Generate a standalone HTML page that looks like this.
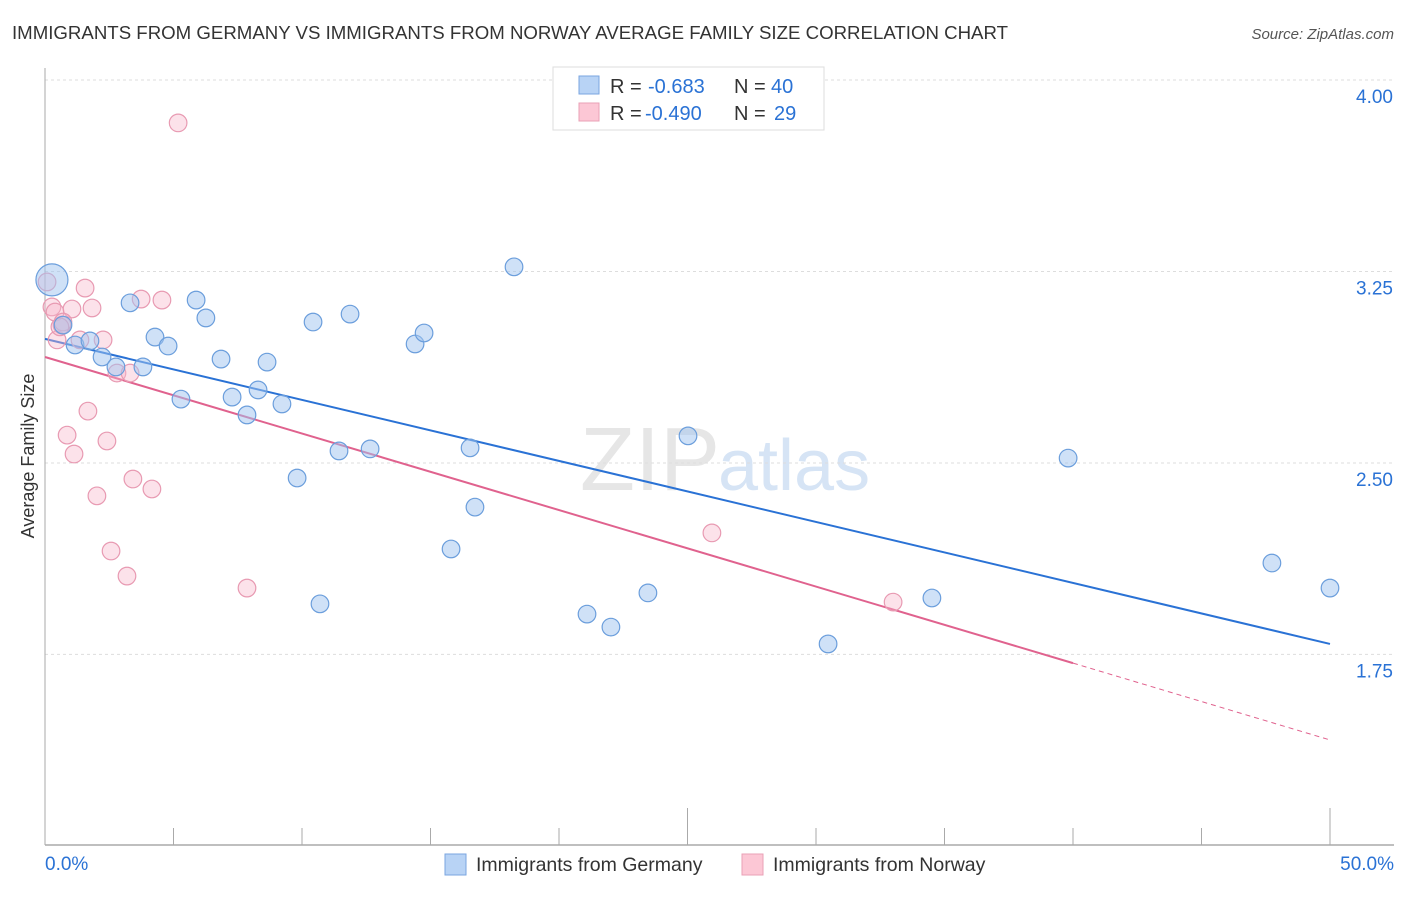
<!DOCTYPE html>
<html><head><meta charset="utf-8"><style>
body{margin:0;background:#fff;font-family:"Liberation Sans",sans-serif;}
svg text{font-family:"Liberation Sans",sans-serif;}
</style></head><body>
<svg id="chart" width="1406" height="892">
<text x="12" y="39" font-size="18" fill="#333" textLength="996" lengthAdjust="spacingAndGlyphs">IMMIGRANTS FROM GERMANY VS IMMIGRANTS FROM NORWAY AVERAGE FAMILY SIZE CORRELATION CHART</text>
<text x="1394" y="39" font-size="15" fill="#555" font-style="italic" text-anchor="end">Source: ZipAtlas.com</text>
<text x="720" y="490" font-size="90" fill="#e6e6e6" text-anchor="end" font-family="Liberation Serif">ZIP</text>
<text x="718" y="490" font-size="72" fill="#d6e4f5">atlas</text>
<g id="grid"></g><g id="axes"></g><g id="lines"></g><g id="pts"></g>
<text transform="translate(34,456) rotate(-90)" font-size="18" fill="#333" text-anchor="middle">Average Family Size</text>
<g>
<rect x="553" y="67" width="271" height="63" fill="#fff" stroke="#ddd"/>
<rect x="579" y="76" width="20" height="18" fill="#b8d3f5" stroke="#7aa6e0"/>
<text x="610" y="93" font-size="20" fill="#333">R =</text>
<text x="648" y="93" font-size="20" fill="#2a72d5">-0.683</text>
<text x="734" y="93" font-size="20" fill="#333">N =</text>
<text x="771" y="93" font-size="20" fill="#2a72d5">40</text>
<rect x="579" y="103" width="20" height="18" fill="#fcc7d5" stroke="#eaa0b6"/>
<text x="610" y="120" font-size="20" fill="#333">R =</text>
<text x="645" y="120" font-size="20" fill="#2a72d5">-0.490</text>
<text x="734" y="120" font-size="20" fill="#333">N =</text>
<text x="774" y="120" font-size="20" fill="#2a72d5">29</text>
</g>
<g>
<rect x="445" y="854" width="21" height="21" fill="#b8d3f5" stroke="#7aa6e0"/>
<text x="476" y="871" font-size="19.5" fill="#333">Immigrants from Germany</text>
<rect x="742" y="854" width="21" height="21" fill="#fcc7d5" stroke="#eaa0b6"/>
<text x="773" y="871" font-size="19.5" fill="#333">Immigrants from Norway</text>
</g>
</svg>
<script>
const yTicks=[4.00,3.25,2.50,1.75];
const yTickLabels=["4.00","3.25","2.50","1.75"];
const xTickLabels=["0.0%","50.0%"];
const germanyX=[0.27,1.17,1.75,2.22,2.76,3.31,3.81,4.28,4.79,5.29,5.88,6.26,6.85,7.28,7.86,8.29,8.64,9.22,9.81,10.43,10.70,11.44,11.87,12.65,14.40,14.75,15.80,16.54,16.73,18.25,21.09,22.02,23.46,25.02,30.47,34.51,39.81,47.74,50.0,0.70];
const germanyY=[3.217,2.962,2.978,2.915,2.876,3.127,2.876,2.993,2.958,2.750,3.138,3.068,2.907,2.758,2.688,2.786,2.895,2.731,2.441,3.052,1.948,2.547,3.083,2.555,2.966,3.009,2.163,2.559,2.327,3.268,1.908,1.857,1.991,2.606,1.791,1.971,2.519,2.108,2.010,3.040];
const norwayX=[0.08,0.27,0.39,0.47,0.66,0.86,1.05,1.13,1.36,1.56,1.67,1.83,2.02,2.26,2.41,2.57,2.80,3.19,3.31,3.42,3.74,4.16,4.55,5.18,7.86,25.95,33.00,0.70,0.58];
const norwayY=[3.209,3.111,3.091,2.982,3.040,2.609,3.103,2.535,2.982,3.185,2.703,3.107,2.371,2.982,2.586,2.155,2.852,2.057,2.852,2.437,3.142,2.398,3.138,3.832,2.010,2.226,1.955,3.052,3.033];
const germanyTrend=[2.986,1.791];
const norwayTrend=[2.915,1.716,1.415];
const NS="http://www.w3.org/2000/svg";
const X=p=>45+p*25.7;
const Y=v=>80+(4-v)*255.3;
function mk(tag,attrs,parent){const e=document.createElementNS(NS,tag);for(const k in attrs)e.setAttribute(k,attrs[k]);document.getElementById(parent).appendChild(e);return e;}
yTicks.forEach((t,i)=>{
  const l=mk('line',{x1:45,x2:1394,y1:Y(t),y2:Y(t),stroke:'#ddd','stroke-dasharray':'3,3'},'grid');
  
  
  const tx=mk('text',{x:1393,y:Y(t)+23,'font-size':19,fill:'#2a72d5','text-anchor':'end'},'grid');
  tx.textContent=yTickLabels[i];
  
  
});
const ax=mk('line',{x1:45,x2:45,y1:68,y2:845,stroke:'#aaa'},'axes');


const bx=mk('line',{x1:45,x2:1394,y1:845,y2:845,stroke:'#aaa','stroke-width':1.5},'axes');


for(let i=0;i<=10;i++){
  const p=i*5;const tall=(i===5||i===10);
  const t=mk('line',{x1:X(p),x2:X(p),y1:tall?808:828,y2:845,stroke:'#aaa'},'axes');
  
  
}
[[0,'start',45],[50,'end',1394]].forEach((d,i)=>{
  const t=mk('text',{x:d[2],y:870,'font-size':19,fill:'#2a72d5','text-anchor':d[1]},'axes');
  t.textContent=xTickLabels[i];
  
  
});
function pts(xs,ys,fill,stroke,name){
  xs.forEach((x,i)=>{
    const big=(name==='germany-point'&&i===0);
    const c=mk('circle',{cx:X(x),cy:Y(ys[i]),r:big?16:8.8,fill:fill,stroke:stroke,'stroke-width':1.2},'pts');
    
    
  });
}
pts(norwayX,norwayY,'rgba(248,182,202,0.4)','#e89ab2','norway-point');
pts(germanyX,germanyY,'rgba(160,196,240,0.5)','#6b9edc','germany-point');
const gl=mk('line',{x1:X(0),y1:Y(germanyTrend[0]),x2:X(50),y2:Y(germanyTrend[1]),stroke:'#2a72d5','stroke-width':2},'lines');


const nl=mk('line',{x1:X(0),y1:Y(norwayTrend[0]),x2:X(40),y2:Y(norwayTrend[1]),stroke:'#e0628e','stroke-width':2},'lines');


const nd=mk('line',{x1:X(40),y1:Y(norwayTrend[1]),x2:X(50),y2:Y(norwayTrend[2]),stroke:'#e0628e','stroke-width':1,'stroke-dasharray':'5,4'},'lines');


</script>
</body></html>
